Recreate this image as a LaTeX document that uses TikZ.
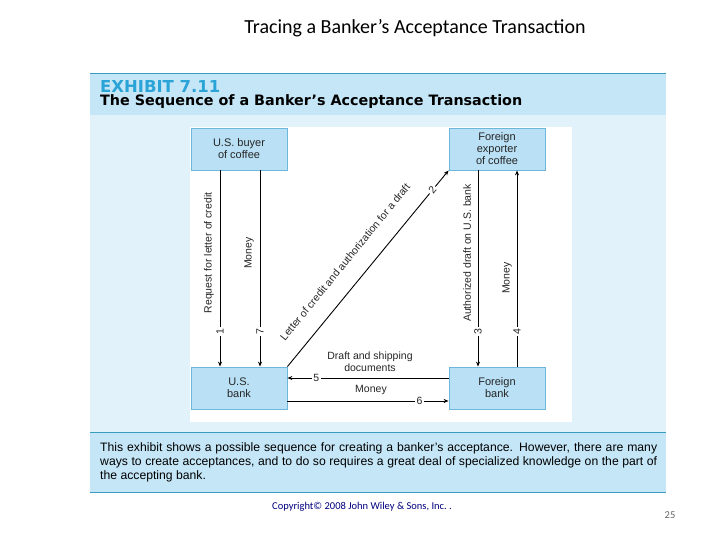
\documentclass[tikz,border=0pt]{standalone}
\usepackage{fontspec}
\setmainfont{Liberation Sans}
\newfontfamily\calfnt{Carlito}
\newfontfamily\dvb{DejaVu Sans}
\usetikzlibrary{arrows.meta}
\definecolor{hdr}{HTML}{C5E6F7}
\definecolor{bodyb}{HTML}{E2F2FB}
\definecolor{boxf}{HTML}{B9E0F4}
\definecolor{boxd}{HTML}{6BB8DC}
\definecolor{tealline}{HTML}{3C9CC0}
\definecolor{exb}{HTML}{2AA3D6}
\begin{document}
\begin{tikzpicture}[x=1pt,y=-1pt,
  box/.style={draw=boxd,fill=boxf,line width=0.8pt,minimum width=96pt,minimum height=42pt,inner sep=0pt,align=center,font=\fontsize{11}{12}\selectfont,text=black!85},
  arr/.style={line width=0.9pt,-{Stealth[length=5pt,width=4pt]}},
  lab/.style={font=\fontsize{10.5}{12}\selectfont,text=black!85},
  num/.style={lab,fill=white,inner sep=1.5pt}]
\useasboundingbox (0,0) rectangle (720,540);
\fill[white] (0,0) rectangle (720,540);
\node[font=\calfnt\fontsize{20}{22}\selectfont] (title) at (415,28) {Tracing a Banker’s Acceptance Transaction};
% panel
\fill[hdr] (90,73) rectangle (666,115);
\fill[bodyb] (90,115) rectangle (666,432);
\fill[hdr] (90,432) rectangle (666,492);
\fill[white] (190,127) rectangle (572,422);
\draw[tealline,line width=0.8pt] (90,73) -- (666,73);
\draw[tealline,line width=0.8pt] (90,432) -- (666,432);
\draw[tealline,line width=0.8pt] (90,492) -- (666,492);
\node[anchor=west,inner sep=0pt] (ex) at (100,87) {\resizebox{120pt}{!}{\color{exb}\dvb\bfseries EXHIBIT 7.11}};
\node[anchor=west,inner sep=0pt] (sub) at (100,102) {\resizebox{422pt}{!}{\dvb\bfseries The Sequence of a Banker’s Acceptance Transaction}};
\node[anchor=north west,inner sep=0pt,text width=557pt,align=justify,font=\fontsize{12.2}{14}\selectfont] (cap) at (100,442)
 {This exhibit shows a possible sequence for creating a banker’s acceptance. However, there are many ways to create acceptances, and to do so requires a great deal of spe\-cialized knowledge on the part of the accepting bank.};
% boxes
\node[box] (buyer) at (239,149) {U.S. buyer\\of coffee};
\node[box] (exp) at (497,149) {Foreign\\exporter\\of coffee};
\node[box] (usb) at (239,388) {U.S.\\bank};
\node[box] (fb) at (497,388) {Foreign\\bank};
% arrows
\draw[arr] ([xshift=-19pt]buyer.south) -- node[num,pos=0.82,rotate=90]{1} ([xshift=-19pt]usb.north);
\draw[arr] ([xshift=21pt]buyer.south) -- node[num,pos=0.82,rotate=90]{7} ([xshift=21pt]usb.north);
\node[lab,rotate=90] (l1) at (209,253) {Request for letter of credit};
\node[lab,rotate=90] (l7) at (249,253) {Money};
\draw[arr] (usb.north east) -- node[num,pos=0.9,rotate=50.8]{2} (exp.south west);
\node[lab,rotate=50.8] (l2) at (345,262) {Letter of credit and authorization for a draft};
\draw[arr] ([xshift=-19pt]exp.south) -- node[num,pos=0.82,rotate=90]{3} ([xshift=-19pt]fb.north);
\draw[arr] ([xshift=20pt]fb.north) -- node[num,pos=0.18,rotate=90]{4} ([xshift=20pt]exp.south);
\node[lab,rotate=90] (l3) at (467,253) {Authorized draft on U.S. bank};
\node[lab,rotate=90] (l4) at (507,278) {Money};
\draw[arr] (fb.west|-0,378) -- node[num,pos=0.82]{5} (usb.east|-0,378);
\draw[arr] (usb.east|-0,401) -- node[num,pos=0.82]{6} (fb.west|-0,401);
\node[lab,align=center] (l5) at (370,362) {Draft and shipping\\documents};
\node[lab] (l6) at (371,390) {Money};
\node[font=\calfnt\fontsize{10.5}{12}\selectfont,text=blue!50!black] (copy) at (362,507) {Copyright© 2008 John Wiley \& Sons, Inc.\ .};
\node[font=\calfnt\fontsize{10.5}{12}\selectfont,text=black!60] (pg) at (670,515) {25};
\end{tikzpicture}
\end{document}
